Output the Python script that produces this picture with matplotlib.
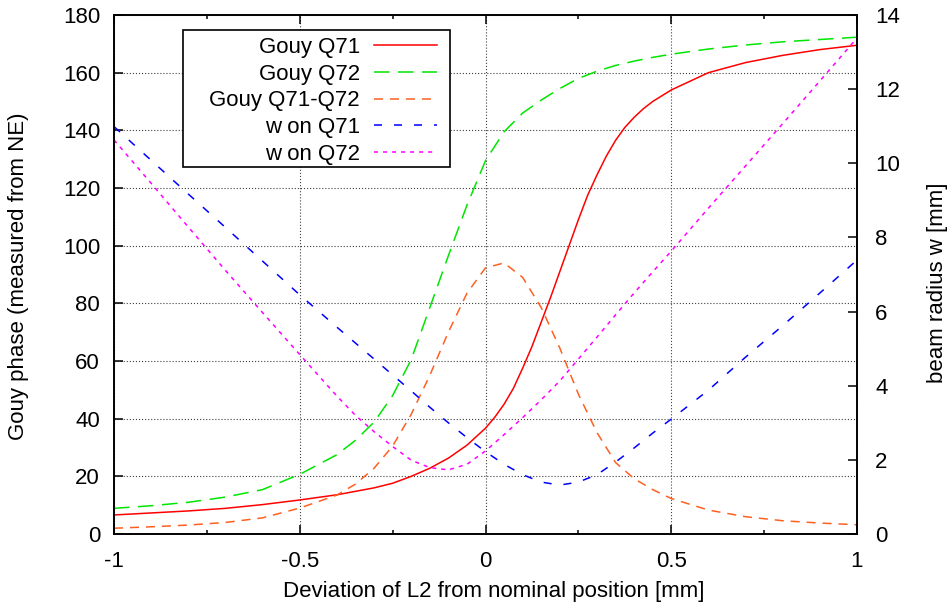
import matplotlib
matplotlib.use("Agg")
import matplotlib.pyplot as plt
from matplotlib.lines import Line2D
from matplotlib.patches import Rectangle
from matplotlib.ticker import MultipleLocator

plt.rcParams['font.family'] = ['Liberation Sans', 'DejaVu Sans']
plt.rcParams['axes.unicode_minus'] = False
plt.rcParams['lines.scale_dashes'] = False

# L2 offset [mm]
dev = [-1.0, -0.9, -0.8, -0.7, -0.6, -0.5, -0.4, -0.35, -0.3, -0.25,
       -0.2, -0.15, -0.1, -0.05, 0.0, 0.05, 0.1, 0.15, 0.2, 0.25,
       0.3, 0.35, 0.4, 0.45, 0.5, 0.6, 0.7, 0.8, 0.9, 1.0]

# Q71 phase is steep around +0.2, so it gets a finer grid there
dev_q71 = [-1.0, -0.9, -0.8, -0.7, -0.6, -0.5, -0.4, -0.35, -0.3, -0.25,
           -0.2, -0.15, -0.1, -0.05, 0.0, 0.025, 0.05, 0.075, 0.1, 0.125,
           0.15, 0.175, 0.2, 0.225, 0.25, 0.275, 0.3, 0.325, 0.35, 0.375,
           0.4, 0.425, 0.45, 0.5, 0.6, 0.7, 0.8, 0.9, 1.0]

# Gouy phase [deg]
gouy_q71 = [6.6, 7.3, 8.0, 8.9, 10.2, 11.8, 13.6, 14.8, 16.0, 17.6,
            20.0, 22.8, 26.3, 30.8, 36.7, 40.5, 45.0, 50.5, 57.5, 65.0,
            73.5, 82.0, 91.0, 100.0, 109.0, 117.5, 124.5, 131.0, 136.5, 141.0,
            144.5, 147.5, 150.0, 154.0, 160.0, 163.5, 166.0, 168.0, 169.5]
gouy_q72 = [8.9, 9.8, 11.0, 12.8, 15.4, 20.7, 27.5, 32.5, 38.8, 48.0,
            60.5, 78.5, 96.5, 114.0, 129.5, 139.5, 146.0, 150.5, 154.5, 158.0,
            160.5, 162.5, 164.0, 165.3, 166.4, 168.2, 169.6, 170.7, 171.5, 172.3]
gouy_diff = [2.0, 2.5, 3.1, 4.0, 5.6, 9.0, 13.5, 17.3, 22.8, 30.5,
             41.5, 55.0, 70.0, 83.5, 92.3, 94.0, 89.0, 78.5, 64.5, 48.5,
             35.2, 24.8, 19.2, 15.4, 12.3, 8.3, 6.0, 4.6, 3.8, 3.2]

# beam radius [mm]
w_q71 = [10.99, 10.08, 9.17, 8.27, 7.36, 6.45, 5.58, 5.15, 4.72, 4.29,
         3.86, 3.42, 3.00, 2.60, 2.22, 1.88, 1.60, 1.40, 1.32, 1.40,
         1.60, 1.94, 2.32, 2.72, 3.10, 3.88, 4.77, 5.62, 6.50, 7.39]
w_q72 = [10.63, 9.46, 8.28, 7.11, 5.97, 4.84, 3.72, 3.20, 2.76, 2.36,
         1.99, 1.79, 1.73, 1.88, 2.24, 2.68, 3.14, 3.62, 4.13, 4.72,
         5.31, 5.91, 6.50, 7.07, 7.63, 8.79, 9.93, 11.07, 12.22, 13.38]

labels = ['Gouy Q71', 'Gouy Q72', 'Gouy Q71-Q72', 'w on Q71', 'w on Q72']
colors = ['#ff0000', '#00e600', '#ff6020', '#0000ff', '#ff00ff']
dash_styles = [None, (11.2, 6.1), (6.5, 5.0), (5.8, 8.6), (2.9, 3.6)]

fs = 16
lw = 1.1

fig = plt.figure(figsize=(9.5, 6.07), dpi=100)
ax = fig.add_axes([114 / 950, 1 - 534 / 607, 743 / 950, 519 / 607])
ax2 = ax.twinx()


def style(i):
    kw = dict(color=colors[i], lw=lw)
    if dash_styles[i] is None:
        kw['linestyle'] = '-'
    else:
        kw['linestyle'] = (0, dash_styles[i])
    return kw


ax.plot(dev_q71, gouy_q71, **style(0))
ax.plot(dev, gouy_q72, **style(1))
ax.plot(dev, gouy_diff, **style(2))
ax2.plot(dev, w_q71, **style(3))
ax2.plot(dev, w_q72, **style(4))

ax.set_xlim(-1, 1)
ax.set_ylim(0, 180)
ax2.set_ylim(0, 14)
ax.set_xticks([-1, -0.5, 0, 0.5, 1])
ax.set_xticklabels(['-1', '-0.5', '0', '0.5', '1'])
ax.xaxis.set_minor_locator(MultipleLocator(0.25))
ax.set_yticks(range(0, 181, 20))
ax2.set_yticks(range(0, 15, 2))

ax.grid(True, which='major', linestyle=(0, (0.8, 1.4)), color='#404040', lw=0.8)

ax.tick_params(axis='x', which='both', direction='in', top=True, bottom=True,
               labelsize=fs, width=1.1, pad=12)
ax.tick_params(axis='x', which='major', length=6.5)
ax.tick_params(axis='x', which='minor', length=3)
ax.tick_params(axis='y', which='both', direction='in', left=True, right=False,
               labelsize=fs, width=1.1, length=6.5, pad=10)
ax2.tick_params(axis='y', which='both', direction='in', left=False, right=True,
                labelsize=fs, width=1.1, length=6.5, pad=13)

for a in (ax, ax2):
    for s in a.spines.values():
        s.set_linewidth(1.2)

fig.text(494 / 950, 1 - 592 / 607, 'Deviation of L2 from nominal position [mm]',
         ha='center', va='center', fontsize=fs)
fig.text(19 / 950, 1 - 276 / 607, 'Gouy phase (measured from NE)',
         ha='center', va='center', rotation=90, fontsize=fs)
fig.text(937 / 950, 1 - 283 / 607, 'beam radius w [mm]',
         ha='center', va='center', rotation=90, fontsize=fs)


# key box in pixel positions, converted to axes fraction
def axfrac(px, py):
    return (px - 114) / 743, (534 - py) / 519


x0, y0 = axfrac(183, 167)
x1, y1 = axfrac(450, 30)
ax2.add_patch(Rectangle((x0, y0), x1 - x0, y1 - y0, transform=ax2.transAxes,
                        facecolor='white', edgecolor='black', lw=1.2,
                        zorder=10, clip_on=False))
for i, lab in enumerate(labels):
    row_y = 45 + i * 26.75
    tx, ty = axfrac(360, row_y + 7.8)
    ax2.text(tx, ty, lab, transform=ax2.transAxes, ha='right', va='baseline',
             fontsize=fs, zorder=11)
    lx0, ly = axfrac(374, row_y)
    lx1, _ = axfrac(437, row_y)
    ax2.add_line(Line2D([lx0, lx1], [ly, ly], transform=ax2.transAxes,
                        zorder=11, clip_on=False, **style(i)))

fig.savefig('out.png', dpi=100)
